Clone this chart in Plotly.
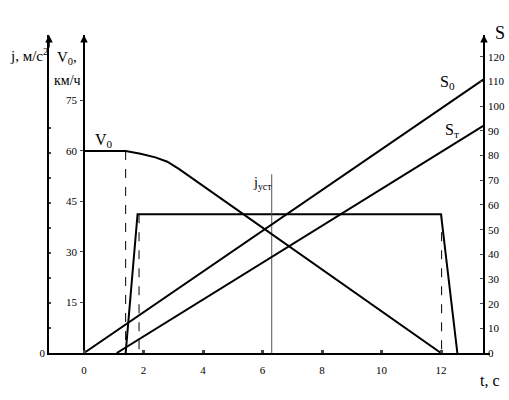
import plotly.graph_objects as go

# time, s
t_ticks = [0, 2, 4, 6, 8, 10, 12]

# speed V0, km/h
t_v0 = [0, 1.4, 1.9, 2.4, 2.8, 3.2, 12]
v0 = [60, 60, 59.2, 58.1, 56.8, 54.6, 0]

# deceleration j, m/s^2
t_j = [1.4, 1.8, 12.0, 12.55]
j = [0, 5.55, 5.55, 0]
j_ust = 7.15
t_j_ust = 6.31

# braking distance S, m
t_s0 = [0, 13.42]
s0 = [0, 110.8]
t_st = [1.1, 13.42]
st = [0, 92.1]

# dashed verticals
t_dash_v = 1.4
t_dash_j = [1.85, 12.02]

v_ticks = [15, 30, 45, 60, 75]
s_ticks = list(range(0, 130, 10))
j_ticks = list(range(0, 10))

W, H = 509, 400
ML, MR, MT, MB = 49, 19, 35, 47
PW, PH = W - ML - MR, H - MT - MB
PX_T = 29.75  # px per second
T0 = 84  # px of t=0


def px(x):
    return (x - ML) / PW


def py(y):
    return (MT + PH - y) / PH


serif = "Liberation Serif"
fig = go.Figure()

line = dict(color="black", width=2)
fig.add_trace(go.Scatter(x=t_j, y=j, mode="lines", line=line, yaxis="y"))
fig.add_trace(go.Scatter(x=t_v0, y=v0, mode="lines", line=line, yaxis="y2"))
fig.add_trace(go.Scatter(x=t_s0, y=s0, mode="lines", line=line, yaxis="y3"))
fig.add_trace(go.Scatter(x=t_st, y=st, mode="lines", line=line, yaxis="y3"))

dash = dict(color="black", width=1, dash="dash")
fig.add_trace(go.Scatter(x=[t_dash_v, t_dash_v], y=[v0[1], 0], mode="lines", line=dash, yaxis="y2"))
for td in t_dash_j:
    fig.add_trace(go.Scatter(x=[td, td], y=[j[1], 0], mode="lines", line=dash, yaxis="y"))
fig.add_trace(go.Scatter(x=[t_j_ust, t_j_ust], y=[j_ust, 0], mode="lines",
                         line=dict(color="#555555", width=1), yaxis="y"))

t_lo = (ML - T0) / PX_T
t_hi = (ML + PW - T0) / PX_T

fig.update_layout(
    width=W, height=H,
    margin=dict(l=ML, r=MR, t=MT, b=MB),
    plot_bgcolor="white", paper_bgcolor="white",
    showlegend=False,
    font=dict(family=serif, color="black", size=11),
    xaxis=dict(range=[t_lo, t_hi], tickvals=t_ticks, ticks="inside", ticklen=3,
               tickwidth=3, showline=True, linecolor="black", linewidth=2,
               showgrid=False, zeroline=False, ticklabelstandoff=6,
               automargin=False),
    yaxis=dict(range=[0, PH / 25], tickvals=j_ticks,
               ticktext=["0"] + [""] * (len(j_ticks) - 1),
               ticks="inside", ticklen=2, tickwidth=2, showline=True,
               linecolor="black", linewidth=1.5, showgrid=False, zeroline=False,
               automargin=False),
    yaxis2=dict(range=[0, PH / 3.367], tickvals=v_ticks, overlaying="y",
                anchor="free", position=px(T0), ticks="outside", ticklen=3,
                showline=True, linecolor="black", linewidth=1.5, showgrid=False,
                zeroline=False, ticklabelstandoff=1, automargin=False),
    yaxis3=dict(range=[0, PH / 2.467], tickvals=s_ticks, overlaying="y",
                side="right", anchor="free", position=px(484), ticks="inside",
                ticklen=3, showline=True, linecolor="black", linewidth=1.5,
                showgrid=False, zeroline=False, ticklabelstandoff=1,
                automargin=False),
)

# arrows on the vertical axes
for xa in [0, px(T0), px(484)]:
    fig.add_annotation(x=xa, y=1, xref="paper", yref="paper", ax=0, ay=14,
                       showarrow=True, arrowhead=2, arrowsize=1, arrowwidth=1.5,
                       arrowcolor="black", text="")

labels = [
    ("j, м/с<sup>2</sup>", 8, 55, 15, "left"),
    ("V<sub>0</sub>,", 55, 58, 15, "left"),
    ("км/ч", 52, 80, 14, "left"),
    ("S", 500, 33, 18, "center"),
    ("t, с", 490, 380, 16, "center"),
    ("S<sub>0</sub>", 447, 83, 16, "center"),
    ("S<sub>т</sub>", 452, 130, 16, "center"),
    ("V<sub>0</sub>", 104, 140, 16, "center"),
    ("j<sub>уст</sub>", 262, 183, 14, "center"),
]
for txt, lx, ly, size, anchor in labels:
    fig.add_annotation(x=px(lx), y=py(ly), xref="paper", yref="paper", text=txt,
                       showarrow=False, xanchor=anchor, yanchor="middle",
                       font=dict(family=serif, size=size, color="black"))

# drop the default page margin so the figure sits at the window's corner
fig.write_html("out.html", config={"displayModeBar": False},
               post_script="document.body.style.margin='0';document.body.style.overflow='hidden';")
